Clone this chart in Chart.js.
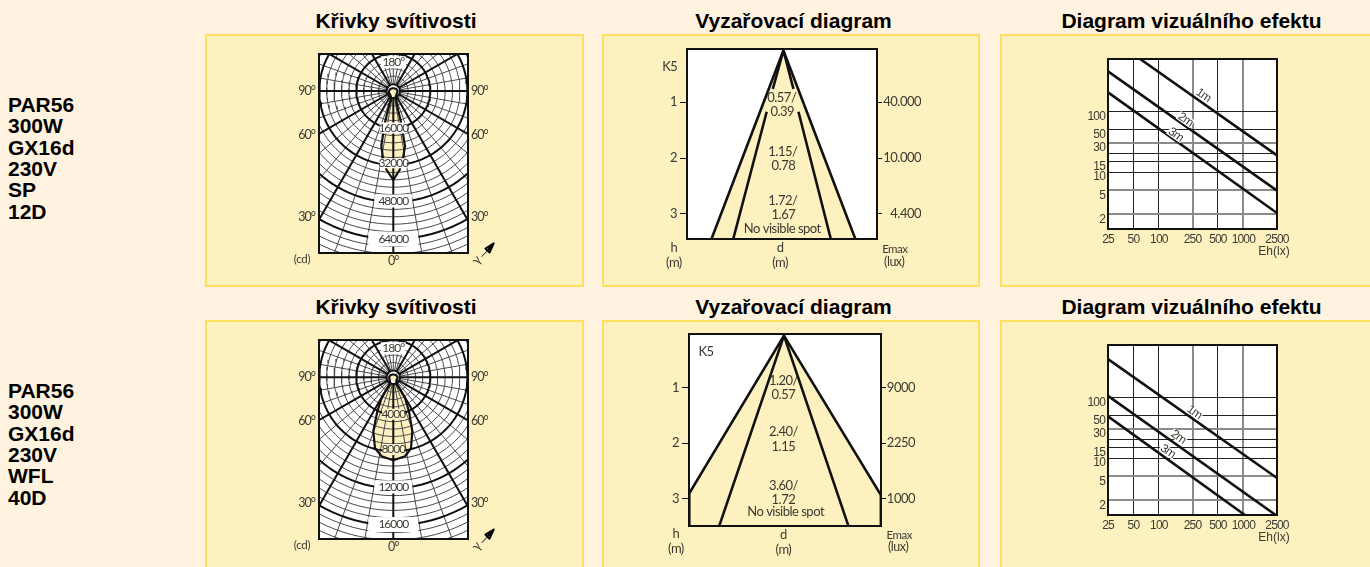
<!DOCTYPE html>
<html>
<head>
<meta charset="utf-8">
<script src="https://cdn.jsdelivr.net/npm/chart.js@4"></script>
<style>
  html, body { margin: 0; padding: 0; width: 1370px; height: 567px; overflow: hidden; background: #fff3df; font-family: "Liberation Sans", Arial, sans-serif; }
  .panel { position: absolute; box-sizing: border-box; border: 2px solid #ffdf5f; background: #fef1c0; }
  .title { position: absolute; width: 380px; text-align: center; font-weight: bold; font-size: 21px; line-height: 24px; color: #000; }
  .lamp { position: absolute; left: 8px; font-weight: bold; font-size: 21px; line-height: 21.35px; color: #000; }
  canvas { position: absolute; }
</style>
</head>
<body>
<div class="lamp" style="top:94px">PAR56<br>300W<br>GX16d<br>230V<br>SP<br>12D</div>
<div class="lamp" style="top:380px">PAR56<br>300W<br>GX16d<br>230V<br>WFL<br>40D</div>
<script>
// ---- data ----
const titles = ['Křivky svítivosti', 'Vyzařovací diagram', 'Diagram vizuálního efektu'];

// candela curves (x = sideways cd, y = cd below the lamp)
const curveSpX = [0,1300,1860,1430,1000,1300,2160,3240,3890,4320,5060,4320,2720,0,-2900,-4540,-5190,-4540,-3460,-2380,-1300,-1000,-1430,-1860,-1300,0];
const curveSpY = [-1300,-860,0,1300,2590,4320,8650,12970,16430,19460,23780,28410,34160,38480,34160,28410,23780,19460,12970,8650,4320,2590,1300,0,-860,-1300];
const curveWflX = [0,325,465,380,325,650,1265,1700,2055,1915,1265,0,-1265,-1980,-2160,-1730,-1265,-650,-325,-380,-465,-325,0];
const curveWflY = [-320,-215,0,325,755,1190,2270,3710,5840,7675,8540,8970,8540,7675,5840,3710,2270,1190,755,325,0,-215,-320];
const ringLabelsSp = ['180°', '16000', '32000', '48000', '64000'];
const ringLabelsWfl = ['180°', '4000', '8000', '12000', '16000'];
const angleLabels = ['90°', '60°', '30°'];

// beam diagrams, h in m
const heights = [1, 2, 3];
const emaxSp = ['40.000', '10.000', '4.400'];
const emaxWfl = ['9000', '2250', '1000'];
const beamOuterSpX = [-1.29, 0, 1.29];
const beamOuterSpY = [3.45, 0.07, 3.45];
const beamInnerSpX = [-0.9, -0.3, null, -0.19, 0, 0.18, null, 0.27, 0.85];
const beamInnerSpY = [3.45, 1.17, null, 0.76, 0.07, 0.76, null, 1.17, 3.45];
const beamOuterWflX = [-1.7, -1.7, 0, 1.74, 1.74];
const beamOuterWflY = [3.48, 2.9, 0.07, 2.93, 3.48];
const beamInnerWflX = [-1.16, 0, 1.155];
const beamInnerWflY = [3.48, 0.07, 3.48];
const beamTextSp = ['0.57/', '0.39', '1.15/', '0.78', '1.72/', '1.67', 'No visible spot'];
const beamTextWfl = ['1.20/', '0.57', '2.40/', '1.15', '3.60/', '1.72', 'No visible spot'];

// visual effect diagrams
const effectXTicks = [25, 50, 100, 250, 500, 1000, 2500];
const effectYTicks = [100, 50, 30, 20, 15, 10, 5, 2];
const effectYLabels = ['100', '50', '30', '', '15', '10', '5', '2'];
const effectNames = ['1m', '2m', '3m'];
const effectSpX = [[60, 2500], [25, 2500], [25, 2500]];
const effectSpY = [[730, 18.8], [456, 4.92], [205.6, 2.11]];
const effectWflX = [[25, 2500], [25, 2410], [25, 1042]];
const effectWflY = [[428, 4.68], [106, 1.15], [48.6, 1.15]];

// ---- page layout ----
const columns = [{ x: 205, w: 379, mid: 396 }, { x: 602, w: 378, mid: 793.5 }, { x: 1000, w: 372, mid: 1191.5 }];
const rows = [{ y: 34, h: 253, titleTop: 9 }, { y: 320, h: 262, titleTop: 295 }];
const INK = '#111', THIN = '#4a4a4a', TEXT = '#3a3a30', BEAM = '#fef1c0';
const NARROW = '"Liberation Sans", sans-serif';
const GILL = 'Lato, "Open Sans", sans-serif';

rows.forEach(r => columns.forEach((c, i) => {
  const p = document.createElement('div');
  p.className = 'panel';
  p.style.cssText = `left:${c.x}px;top:${r.y}px;width:${c.w}px;height:${r.h}px`;
  document.body.appendChild(p);
  const t = document.createElement('div');
  t.className = 'title';
  t.textContent = titles[i];
  t.style.cssText = `left:${c.mid - 190}px;top:${r.titleTop}px`;
  document.body.appendChild(t);
}));

const pts = (xs, ys) => xs.map((x, i) => ({ x, y: ys[i] }));

// white plot, black frame and the free labels, all placed through the scales
const plotDeco = {
  id: 'plotDeco',
  beforeDraw(chart, args, opts) {
    const a = chart.chartArea, ctx = chart.ctx;
    ctx.letterSpacing = opts.tracking || '0px';
    ctx.save();
    ctx.fillStyle = '#fff';
    ctx.fillRect(a.left, a.top, a.right - a.left, a.bottom - a.top);
    ctx.restore();
  },
  afterDatasetsDraw(chart, args, opts) {
    const a = chart.chartArea, ctx = chart.ctx;
    ctx.save();
    ctx.strokeStyle = INK;
    ctx.lineWidth = 2;
    ctx.strokeRect(a.left, a.top, a.right - a.left, a.bottom - a.top);
    (opts.notes || []).forEach(n => {
      const px = chart.scales.x.getPixelForValue(n.x);
      const py = chart.scales.y.getPixelForValue(n.y);
      ctx.save();
      ctx.translate(px, py);
      if (n.rot) ctx.rotate(n.rot * Math.PI / 180);
      if (n.box) {
        ctx.fillStyle = n.bg || '#fff';
        ctx.fillRect(-n.box[0] / 2, -n.box[1] / 2, n.box[0], n.box[1]);
      }
      if (n.tracking) ctx.letterSpacing = n.tracking;
      ctx.font = n.font;
      ctx.fillStyle = n.color || TEXT;
      ctx.textAlign = 'center';
      ctx.textBaseline = 'middle';
      ctx.fillText(n.text, 0, 0);
      ctx.restore();
    });
    ctx.restore();
  }
};

// fixes the plot rectangle inside the canvas
function fixWidth(w) {
  return s => { s.width = w; s.paddingTop = s.paddingBottom = s.paddingLeft = s.paddingRight = 0; };
}
function fixHeight(h) {
  return s => { s.height = h; s.paddingTop = s.paddingBottom = s.paddingLeft = s.paddingRight = 0; };
}

function draw(rowI, colI, plot, datasets, scales, notes, tracking) {
  const r = rows[rowI], c = columns[colI];
  const w = plot.farEdge ? plot.farEdge - c.x : c.w;
  const cv = document.createElement('canvas');
  cv.width = w; cv.height = r.h;
  cv.style.left = c.x + 'px';
  cv.style.top = r.y + 'px';
  document.body.appendChild(cv);
  const L = plot.left - c.x, R = c.x + w - plot.right, T = plot.top - r.y, B = r.y + r.h - plot.bottom;
  scales.x.afterFit = fixHeight(B);
  scales.y.afterFit = fixWidth(L);
  if (scales.yr) scales.yr.afterFit = fixWidth(R);
  return new Chart(cv.getContext('2d'), {
    type: 'scatter',
    data: { datasets },
    plugins: [plotDeco],
    options: {
      responsive: false,
      animation: false,
      events: [],
      layout: { padding: { top: T, left: 0, bottom: 0, right: scales.yr ? 0 : R } },
      elements: { point: { radius: 0 } },
      plugins: { legend: { display: false }, tooltip: { enabled: false }, plotDeco: { notes, tracking } },
      scales
    }
  });
}

function line(data, width, color, order, extra) {
  return Object.assign({ data, showLine: true, borderColor: color, borderWidth: width, pointRadius: 0, order, borderJoinStyle: 'round', spanGaps: false }, extra || {});
}

// ---- candela polar grids ----
function ring(r) {
  const out = [];
  for (let a = 0; a <= 360; a += 3) {
    out.push({ x: r * Math.sin(a * Math.PI / 180), y: r * Math.cos(a * Math.PI / 180) });
  }
  return out;
}

function polarChart(rowI, plot, unit, xs, ys, xr, yr, angleAt, ringText, ringAt, boxes, boxBg) {
  const sets = [];
  sets.push(line(pts(xs, ys), 0, 'transparent', 9, { fill: 'shape', backgroundColor: BEAM }));
  for (let k = 1; k <= 25; k++) {
    const heavy = k % 5 === 0;
    sets.push(line(ring(unit / 5 * k), heavy ? 2 : 1, heavy ? INK : THIN, heavy ? 7 : 8));
  }
  for (let a = 0; a < 360; a += 10) {
    const heavy = a % 30 === 0 && a !== 180;
    const far = unit * 6, t = a * Math.PI / 180;
    sets.push(line([{ x: 0, y: 0 }, { x: far * Math.sin(t), y: far * Math.cos(t) }], heavy ? 2 : 1, heavy ? INK : THIN, heavy ? 7 : 8));
  }
  const disc = unit * 0.175;
  sets.push(line(ring(disc), 1.5, INK, 6, { fill: 'shape', backgroundColor: '#fff' }));
  sets.push(line(pts(xs, ys).filter(p => p.y < disc), 0, 'transparent', 5, { fill: 'shape', backgroundColor: BEAM }));
  sets.push(line(pts(xs, ys), 2.2, INK, 1));
  // light direction arrow under the plot, the head is a small closed stroke
  const k = unit / 16000;
  sets.push(line(pts([38220 * k, 40730 * k], [71650 * k, 68970 * k]), 1, INK, 0, { clip: false }));
  sets.push(line(pts([43410 * k, 39870 * k, 41600 * k, 43410 * k, 40730 * k], [65860 * k, 68100 * k, 69830 * k, 65860 * k, 68970 * k]), 2, '#000', 0, { clip: false }));

  const tickFont = { family: GILL, size: 12.5 };
  const scales = {
    x: { type: 'linear', min: xr[0], max: xr[1], grid: { display: false, drawTicks: false }, border: { display: false },
      afterBuildTicks: s => { s.ticks = [{ value: 0 }]; },
      ticks: { callback: () => '0°', color: TEXT, font: tickFont, padding: 0, maxRotation: 0 } },
    y: { type: 'linear', reverse: true, min: yr[0], max: yr[1], grid: { display: false, drawTicks: false }, border: { display: false },
      afterBuildTicks: s => { s.ticks = angleAt.map(v => ({ value: v })); },
      ticks: { callback: (v, i) => angleLabels[i], color: TEXT, font: tickFont, padding: 4, autoSkip: false } },
    yr: { type: 'linear', position: 'right', reverse: true, min: yr[0], max: yr[1], grid: { display: false, drawTicks: false }, border: { display: false },
      afterBuildTicks: s => { s.ticks = angleAt.map(v => ({ value: v })); },
      ticks: { callback: (v, i) => angleLabels[i], color: TEXT, font: tickFont, padding: 3, autoSkip: false } }
  };
  const notes = ringText.map((text, i) => ({ text, x: 0, y: ringAt[i], box: boxes[i], bg: (boxBg && boxBg[i]) || '#fff', font: '12px ' + GILL }));
  notes.push({ text: '(cd)', x: -39480 * k, y: 72800 * k, font: '11.5px ' + GILL, tracking: '-0.3px' });
  notes.push({ text: 'γ', x: 36030 * k, y: 73070 * k, rot: -50, font: '13px ' + GILL, tracking: '0px' });
  return draw(rowI, 0, plot, sets, scales, notes, '-1px');
}

polarChart(0, { left: 319, right: 468, top: 54, bottom: 253 }, 16000, curveSpX, curveSpY,
  [-32130, 32300], [-16000, 70050], [0, 19000, 54350],
  ringLabelsSp, [-12400, 16000, 31260, 47570, 64000], [[25, 12], [27, 11], [27, 10], [38, 13], [50, 15]]);
polarChart(1, { left: 319, right: 468, top: 340, bottom: 539 }, 4000, curveWflX, curveWflY,
  [-8032, 8075], [-4032, 17490], [0, 4724, 13545],
  ringLabelsWfl, [-3135, 4000, 7820, 11860, 15930], [[25, 12], [22, 11], [22, 11], [38, 13], [50, 15]],
  [null, '#fff4cf', '#fff4cf', null, null]);

// ---- beam diagrams ----
function beamChart(rowI, plot, xr, yr, outer, inner, emax, dAt, text, textAt, extra) {
  const sets = [
    line(outer, 0, 'transparent', 5, { fill: 'shape', backgroundColor: BEAM }),
    line(outer.filter(p => p.y < yr[1] - 0.001 || rowI === 0), 2.6, INK, 1),
    line(inner, 2.6, INK, 1)
  ];
  const font = { family: GILL, size: 13 };
  const scales = {
    x: { type: 'linear', min: xr[0], max: xr[1], grid: { display: false, drawTicks: false }, border: { display: false },
      afterBuildTicks: s => { s.ticks = [{ value: dAt }]; },
      ticks: { callback: () => ['d', '(m)'], color: TEXT, font: { family: GILL, size: 13, lineHeight: '15px' }, padding: 1, maxRotation: 0 } },
    y: { type: 'linear', reverse: true, min: yr[0], max: yr[1], grid: { drawOnChartArea: false, tickLength: 7, tickColor: INK }, border: { display: false },
      afterBuildTicks: s => { s.ticks = heights.map(v => ({ value: v })); },
      ticks: { callback: v => String(v), color: TEXT, font, padding: 3 } },
    yr: { type: 'linear', position: 'right', reverse: true, min: yr[0], max: yr[1], grid: { drawOnChartArea: false, tickLength: 5, tickColor: INK }, border: { display: false },
      afterBuildTicks: s => { s.ticks = heights.map(v => ({ value: v })); },
      ticks: { callback: (v, i) => emax[i], color: TEXT, font, padding: 5, crossAlign: 'far' } }
  };
  const notes = text.map((t, i) => ({ text: t, x: textAt[i][0], y: textAt[i][1], font: '13px ' + GILL }));
  extra.forEach(e => notes.push({ text: e[0], x: e[1], y: e[2], font: e[3] + 'px ' + GILL }));
  return draw(rowI, 1, plot, sets, scales, notes, '-0.5px');
}

beamChart(0, { left: 687, right: 877, top: 49, bottom: 239, farEdge: 921 }, [-1.731, 1.68], [0.043, 3.454],
  pts(beamOuterSpX, beamOuterSpY), pts(beamInnerSpX, beamInnerSpY), emaxSp, -0.06, beamTextSp,
  [[-0.03, 0.917], [-0.02, 1.169], [-0.01, 1.887], [0, 2.144], [-0.01, 2.767], [0, 3.011], [-0.02, 3.275]],
  [['K5', -2.04, 0.361, 13], ['h', -1.966, 3.616, 13], ['(m)', -1.966, 3.885, 13], ['Emax', 2.0, 3.634, 11.5], ['(lux)', 1.99, 3.862, 12.5]]);
beamChart(1, { left: 689, right: 881, top: 334, bottom: 526, farEdge: 915 }, [-1.705, 1.742], [0.041, 3.487],
  pts(beamOuterWflX, beamOuterWflY), pts(beamInnerWflX, beamInnerWflY), emaxWfl, -0.01, beamTextWfl,
  [[-0.01, 0.874], [-0.01, 1.136], [-0.01, 1.79], [-0.01, 2.065], [-0.01, 2.759], [-0.01, 3.016], [0.03, 3.237]],
  [['K5', -1.4, 0.359, 13], ['h', -1.94, 3.627, 13], ['(m)', -1.94, 3.896, 13], ['Emax', 2.07, 3.645, 11.5], ['(lux)', 2.05, 3.872, 12.5]]);

// ---- visual effect diagrams ----
function effectChart(rowI, plot, xs, ys, labelAt) {
  const soft = [30, 5, 2, 250, 1000];
  const gridOpts = {
    drawTicks: false,
    color: c => soft.includes(c.tick.value) ? '#8b8b8b' : '#222',
    lineWidth: c => soft.includes(c.tick.value) ? 2 : 1
  };
  const sets = effectNames.map((n, i) => line(pts(xs[i], ys[i]), 2.6, INK, 1));
  const scales = {
    x: { type: 'logarithmic', min: 25, max: 2500, grid: gridOpts, border: { display: false },
      afterBuildTicks: s => { s.ticks = effectXTicks.map(v => ({ value: v })); },
      ticks: { callback: v => String(v), color: TEXT, font: { family: NARROW, size: 12 }, padding: 3, autoSkip: false, maxRotation: 0 } },
    y: { type: 'logarithmic', min: 1.149, max: 730, grid: gridOpts, border: { display: false },
      afterBuildTicks: s => { s.ticks = effectYTicks.map(v => ({ value: v })); },
      // empty first line pushes each label a little below its grid line, as in the original
      ticks: { callback: (v, i) => ['', effectYLabels[i]], color: TEXT, font: { family: NARROW, size: 12, lineHeight: '10px' }, padding: 3, autoSkip: false } }
  };
  const notes = effectNames.map((t, i) => ({ text: t, x: labelAt[i][0], y: labelAt[i][1], rot: 35, box: [17, 9], font: '12px ' + NARROW }));
  notes.push({ text: 'Eh(lx)', x: 2305, y: 0.492, font: '12px "Liberation Sans", sans-serif', tracking: '0px' });
  return draw(rowI, 2, plot, sets, scales, notes, '-0.8px');
}

effectChart(0, { left: 1108, right: 1277, top: 59, bottom: 229 }, effectSpX, effectSpY, [[336, 184], [206, 72.9], [158, 41.2]]);
effectChart(1, { left: 1108, right: 1277, top: 345, bottom: 515 }, effectWflX, effectWflY, [[262.8, 56.6], [170, 22.2], [127, 12.9]]);
</script>
</body>
</html>
